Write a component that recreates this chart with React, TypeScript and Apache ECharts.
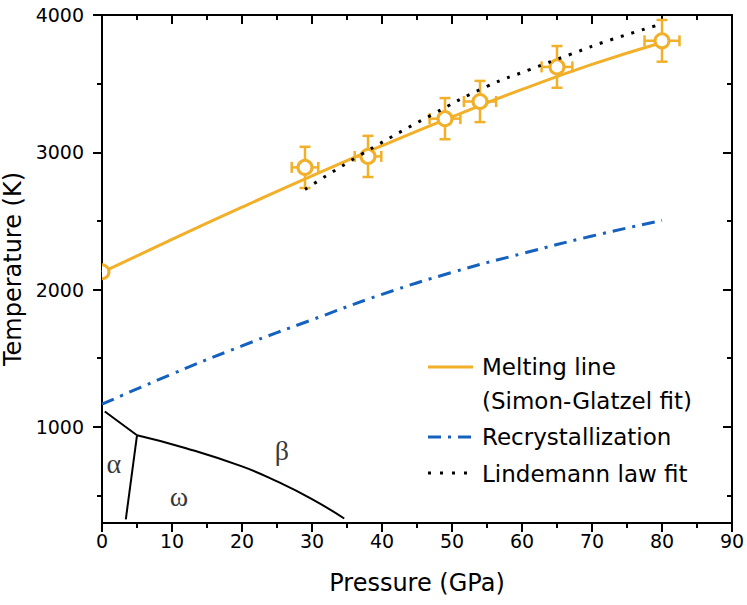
import React, { useEffect, useRef } from "react";
import * as echarts from "echarts";

// Melting line (Simon-Glatzel fit)
const meltP = [0, 10, 20, 30, 40, 50, 60, 70, 80];
const meltT = [2126, 2365, 2600, 2828, 3048, 3258, 3458, 3640, 3800];
// Recrystallization
const recrP = [0, 10, 20, 30, 40, 50, 60, 70, 80];
const recrT = [1165, 1385, 1590, 1780, 1965, 2125, 2262, 2390, 2504];
// Lindemann law fit
const lindP = [29, 37, 47, 55, 61, 67, 72.6, 80];
const lindT = [2730, 2983, 3270, 3480, 3600, 3715, 3818, 3935];
// Measured melting points with error bars
const dataP = [0, 29, 38, 49, 54, 65, 80];
const dataT = [2130, 2890, 2970, 3245, 3370, 3622, 3812];
const errP = [0, 1.9, 1.9, 2.2, 2.3, 2.2, 2.5];
const errT = [0, 150, 150, 150, 150, 152, 152];
// Solid phase boundaries
const abP = [0.4, 5];
const abT = [1112, 939];
const awP = [5, 3.4];
const awT = [939, 326];
const wbP = [5, 12, 20, 25, 30, 34.6];
const wbT = [939, 845, 712, 603, 474, 333];
// Phase labels
const phaseNames = ["α", "β", "ω"];
const phaseP = [1.7, 25.7, 11];
const phaseT = [730, 825, 496];
// Axis ticks
const xMajor = [0, 10, 20, 30, 40, 50, 60, 70, 80, 90];
const xMinor = [5, 15, 25, 35, 45, 55, 65, 75, 85];
const yMajor = [1000, 2000, 3000, 4000];
const yMinor = [500, 1500, 2500, 3500];

const ORANGE = "#F2B02A";
const BLUE = "#1462BE";
const FONT = "DejaVu Sans";

const zip = (a: number[], b: number[]) => a.map((v, i) => [v, b[i]]);

export default function App() {
  const ref = useRef<HTMLDivElement>(null);
  useEffect(() => {
    if (!ref.current) return;
    const chart = echarts.init(ref.current, null, { renderer: "svg" });
    const axisLine = { show: true, onZero: false, lineStyle: { color: "#000", width: 2 } };
    const noLine = { show: false, onZero: false };
    const tickStyle = { color: "#000", width: 2 };
    const xBase = { type: "value", min: 0, max: 90, splitLine: { show: false } };
    const yBase = { type: "value", min: 300, max: 4000, splitLine: { show: false } };
    const tickAxis = (base: any, position: string, values: number[], len: number, offset: number) => ({
      ...base, position, offset, axisLine: noLine,
      axisTick: { show: true, inside: false, length: len, customValues: values, lineStyle: tickStyle },
      axisLabel: { show: false },
    });
    const option: any = {
      animation: false,
      backgroundColor: "#fff",
      grid: { left: 102, right: 15, top: 15, bottom: 82, containLabel: false, outerBoundsMode: "none" },
      xAxis: [
        {
          ...xBase, position: "bottom", axisLine,
          axisTick: { show: true, inside: false, length: 9, customValues: xMajor, lineStyle: tickStyle },
          axisLabel: { customValues: xMajor, color: "#000", fontFamily: FONT, fontSize: 19, margin: 8 },
          name: "Pressure (GPa)", nameLocation: "middle", nameGap: 48,
          nameTextStyle: { color: "#000", fontFamily: FONT, fontSize: 24 },
        },
        tickAxis(xBase, "bottom", xMinor, 5, 0),
        { ...xBase, position: "top", axisLine, axisTick: { show: false }, axisLabel: { show: false } },
        tickAxis(xBase, "top", xMajor, 9, -9),
        tickAxis(xBase, "top", xMinor, 5, -5),
      ],
      yAxis: [
        {
          ...yBase, position: "left", axisLine,
          axisTick: { show: true, inside: false, length: 9, customValues: yMajor, lineStyle: tickStyle },
          axisLabel: {
            customValues: yMajor, formatter: (v: number) => String(v),
            color: "#000", fontFamily: FONT, fontSize: 19, margin: 18,
          },
          name: "Temperature (K)", nameLocation: "middle", nameGap: 62,
          nameTextStyle: { color: "#000", fontFamily: FONT, fontSize: 24 },
        },
        tickAxis(yBase, "left", yMinor, 5, 0),
        { ...yBase, position: "right", axisLine, axisTick: { show: false }, axisLabel: { show: false } },
        tickAxis(yBase, "right", yMajor, 9, -9),
        tickAxis(yBase, "right", yMinor, 5, -5),
      ],
      series: [
        {
          name: "Melting line", type: "line", data: zip(meltP, meltT), smooth: true, symbol: "none",
          lineStyle: { color: ORANGE, width: 3 }, z: 2,
        },
        {
          name: "Recrystallization", type: "line", data: zip(recrP, recrT), smooth: true, symbol: "none",
          lineStyle: { color: BLUE, width: 3, type: [13, 7, 3, 7] }, z: 2,
        },
        {
          type: "line", data: zip(abP, abT), symbol: "none",
          lineStyle: { color: "#000", width: 2 }, z: 2,
        },
        {
          type: "line", data: zip(awP, awT), symbol: "none",
          lineStyle: { color: "#000", width: 2 }, z: 2,
        },
        {
          type: "line", data: zip(wbP, wbT), smooth: true, symbol: "none",
          lineStyle: { color: "#000", width: 2 }, z: 2,
        },
        {
          type: "custom", clip: true, z: 3,
          encode: { x: 0, y: 1 },
          data: dataP.map((p, i) => [p, dataT[i], errP[i], errT[i]]),
          renderItem: (params: any, api: any) => {
            const p = api.value(0), t = api.value(1), ep = api.value(2), et = api.value(3);
            const c = api.coord([p, t]);
            const cap = 5.5;
            const st = { stroke: ORANGE, lineWidth: 2.5, fill: "none" };
            const children: any[] = [];
            if (et > 0) {
              const a = api.coord([p, t + et]);
              const b = api.coord([p, t - et]);
              children.push({ type: "line", shape: { x1: a[0], y1: a[1], x2: b[0], y2: b[1] }, style: st });
              children.push({ type: "line", shape: { x1: a[0] - cap, y1: a[1], x2: a[0] + cap, y2: a[1] }, style: st });
              children.push({ type: "line", shape: { x1: b[0] - cap, y1: b[1], x2: b[0] + cap, y2: b[1] }, style: st });
            }
            if (ep > 0) {
              const a = api.coord([p - ep, t]);
              const b = api.coord([p + ep, t]);
              children.push({ type: "line", shape: { x1: a[0], y1: a[1], x2: b[0], y2: b[1] }, style: st });
              children.push({ type: "line", shape: { x1: a[0], y1: a[1] - cap, x2: a[0], y2: a[1] + cap }, style: st });
              children.push({ type: "line", shape: { x1: b[0], y1: b[1] - cap, x2: b[0], y2: b[1] + cap }, style: st });
            }
            children.push({
              type: "circle", shape: { cx: c[0], cy: c[1], r: 7 },
              style: { fill: "#fff", stroke: ORANGE, lineWidth: 3 },
            });
            const cs = params.coordSys;
            return {
              type: "group",
              clipPath: { type: "rect", shape: { x: cs.x, y: cs.y, width: cs.width, height: cs.height } },
              children,
            };
          },
        },
        {
          name: "Lindemann law fit", type: "line", data: zip(lindP, lindT), smooth: true, symbol: "none",
          lineStyle: { color: "#000", width: 3, type: [3, 8] }, z: 4,
        },
        {
          type: "scatter", symbol: "circle", symbolSize: 1, z: 5, silent: true,
          itemStyle: { color: "rgba(0,0,0,0)" },
          data: phaseP.map((p, i) => ({ value: [p, phaseT[i]], name: phaseNames[i] })),
          label: {
            show: true, position: "inside", formatter: (d: any) => d.name,
            color: "#000", fontFamily: "Liberation Serif", fontSize: 28,
          },
        },
      ],
      graphic: [
        { type: "line", shape: { x1: 428, y1: 367, x2: 473, y2: 367 }, style: { stroke: ORANGE, lineWidth: 3 } },
        { type: "text", x: 482, y: 367, style: { text: "Melting line", fill: "#000", font: `23px "${FONT}"`, verticalAlign: "middle" } },
        { type: "text", x: 482, y: 401, style: { text: "(Simon-Glatzel fit)", fill: "#000", font: `23px "${FONT}"`, verticalAlign: "middle" } },
        { type: "line", shape: { x1: 428, y1: 437, x2: 473, y2: 437 }, style: { stroke: BLUE, lineWidth: 3, lineDash: [13, 7, 3, 7] } },
        { type: "text", x: 482, y: 437, style: { text: "Recrystallization", fill: "#000", font: `23px "${FONT}"`, verticalAlign: "middle" } },
        { type: "line", shape: { x1: 428, y1: 473, x2: 473, y2: 473 }, style: { stroke: "#000", lineWidth: 3, lineDash: [3, 9] } },
        { type: "text", x: 482, y: 474, style: { text: "Lindemann law fit", fill: "#000", font: `23px "${FONT}"`, verticalAlign: "middle" } },
      ],
    };
    chart.setOption(option);
    return () => chart.dispose();
  }, []);
  return (
    <div
      ref={ref}
      style={{ position: "fixed", left: 0, top: 0, width: 747, height: 605, background: "#fff" }}
    />
  );
}
